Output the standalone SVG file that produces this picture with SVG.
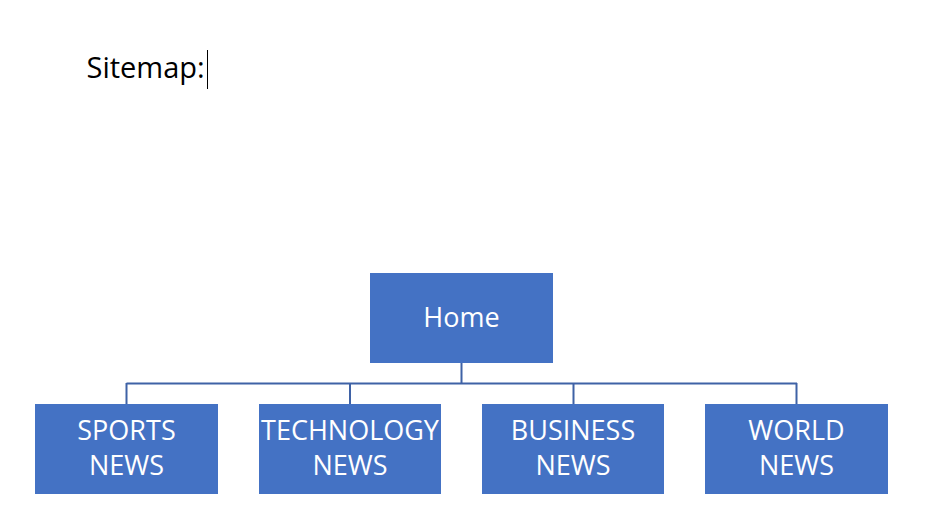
<svg xmlns="http://www.w3.org/2000/svg" width="930" height="524" viewBox="0 0 930 524">
<style>
.box{fill:#4472C4}
.lbl{font-family:"Open Sans","Noto Sans","Liberation Sans",sans-serif;font-size:27px;fill:#FFFFFF;text-anchor:middle}
.conn{stroke:#3F62A6;stroke-width:2;fill:none}
</style>
<rect width="930" height="524" fill="#FFFFFF"/>
<text x="86.5" y="78" font-family="'Open Sans','Noto Sans','Liberation Sans',sans-serif" font-size="29" fill="#000000">Sitemap:</text>
<line x1="207.5" y1="50" x2="207.5" y2="89" stroke="#000000" stroke-width="1"/>
<g id="connectors">
<path class="conn" d="M461.5 363 V383.5 M126.5 383.5 H797 M126.5 383 V404 M350 383 V404 M573.5 383 V404 M796.5 383 V404"/>
</g>
<g id="home">
<rect class="box" x="370" y="273" width="183" height="90"/>
<text class="lbl" x="461.5" y="327">Home</text>
</g>
<g id="sports">
<rect class="box" x="35" y="404" width="183" height="90"/>
<text class="lbl" x="126.5" y="440">SPORTS</text>
<text class="lbl" x="126.5" y="475">NEWS</text>
</g>
<g id="technology">
<rect class="box" x="259" y="404" width="182" height="90"/>
<text class="lbl" x="350" y="440">TECHNOLOGY</text>
<text class="lbl" x="350" y="475">NEWS</text>
</g>
<g id="business">
<rect class="box" x="482" y="404" width="182" height="90"/>
<text class="lbl" x="573" y="440">BUSINESS</text>
<text class="lbl" x="573" y="475">NEWS</text>
</g>
<g id="world">
<rect class="box" x="705" y="404" width="183" height="90"/>
<text class="lbl" x="796.5" y="440">WORLD</text>
<text class="lbl" x="796.5" y="475">NEWS</text>
</g>
</svg>
